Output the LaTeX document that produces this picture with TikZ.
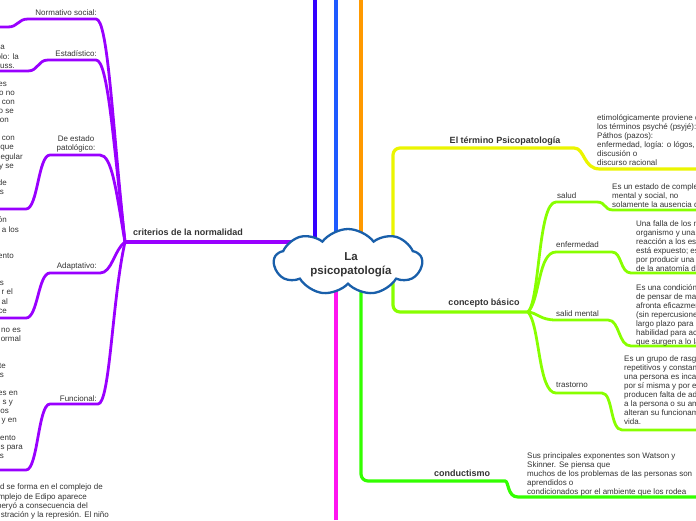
\documentclass[tikz,border=0pt]{standalone}
\usepackage{fontspec}
\setmainfont{Liberation Sans}
\usetikzlibrary{shapes.symbols}
\definecolor{tx}{RGB}{51,51,51}
\definecolor{cA}{RGB}{51,0,255}
\definecolor{cB}{RGB}{30,90,255}
\definecolor{cC}{RGB}{255,153,0}
\definecolor{cYel}{RGB}{235,245,0}
\definecolor{cLime}{RGB}{136,255,0}
\definecolor{cGrn}{RGB}{51,255,0}
\definecolor{cMag}{RGB}{255,20,240}
\definecolor{cPur}{RGB}{153,0,255}
\definecolor{cCloud}{RGB}{25,95,170}
\begin{document}
\begin{tikzpicture}[x=1pt,y=-1pt,
  mainline/.style={line width=3.2pt},
  brline/.style={line width=2.8pt},
  lbl/.style={font=\fontsize{8}{9.1}\selectfont, text=tx, inner sep=0pt},
  blbl/.style={font=\bfseries\fontsize{9}{11}\selectfont, text=tx, inner sep=0pt, anchor=base},
  txt/.style={font=\fontsize{8}{9.1}\selectfont, text=tx, inner sep=0pt, align=left, anchor=north west},
  frag/.style={font=\fontsize{8}{9.1}\selectfont, text=tx, inner sep=0pt, anchor=base east}]
\useasboundingbox (0,0) rectangle (696,520);
\begin{scope}
\clip (0,0) rectangle (696,520);
\coordinate (ctrpt) at (348,262);
\coordinate (hubL) at (125,242);
\coordinate (hubR) at (528,312);
\coordinate (eA) at (315,0);
\coordinate (eB) at (336,0);
\coordinate (eC) at (361,0);
\coordinate (eM) at (336,520);
% vertical lines
\draw[mainline, cA] (eA) -- (eA |- ctrpt);
\draw[mainline, cB] (eB) -- (eB |- ctrpt);
\draw[mainline, cC] (eC) -- (eC |- ctrpt);
\draw[mainline, cMag] (eM) -- (eM |- ctrpt);
% yellow
\draw[mainline, cYel] (393,262) [rounded corners=7pt] -- (393,148) -- (567,148) [sharp corners] .. controls (585,148) and (583,169) .. (600,169) -- (696,169);
% concepto basico
\draw[mainline, cLime] (393,262) [rounded corners=7pt] -- (393,312) -- (hubR);
\draw[brline, cLime] (hubR) .. controls (540,300) and (538,202) .. (556,202) -- (597,202) .. controls (606,202) and (604,210) .. (613,210) -- (696,210);
\draw[brline, cLime] (hubR) .. controls (540,300) and (538,252) .. (556,252) -- (612,252) .. controls (622,252) and (620,273) .. (631,273) -- (696,273);
\draw[brline, cLime] (hubR) .. controls (538,313) and (540,320) .. (556,320) -- (608,320) .. controls (620,320) and (618,346) .. (631,346) -- (696,346);
\draw[brline, cLime] (hubR) .. controls (540,325) and (538,393) .. (556,393) -- (602,393) .. controls (613,393) and (610,430) .. (622,430) -- (696,430);
% conductismo
\draw[mainline, cGrn] (361,262) [rounded corners=7pt] -- (361,481) -- (498,481) [sharp corners] .. controls (509,481) and (507,497) .. (518,497) -- (696,497);
% left purple
\draw[mainline, cPur] (hubL) -- (hubL -| ctrpt);
\draw[brline, cPur] (hubL) .. controls (112,120) and (108,19) .. (96,19) -- (28,19) .. controls (18,19) and (18,27) .. (8,27) -- (0,27);
\draw[brline, cPur] (hubL) .. controls (113,140) and (108,60) .. (96,60) -- (48,60) .. controls (38,60) and (38,71) .. (28,71) -- (0,71);
\draw[brline, cPur] (hubL) .. controls (116,190) and (112,155) .. (100,155) -- (50,155) .. controls (38,155) and (38,209) .. (26,209) -- (0,209);
\draw[brline, cPur] (hubL) .. controls (114,250) and (112,273) .. (100,273) -- (50,273) .. controls (38,273) and (38,318) .. (26,318) -- (0,318);
\draw[brline, cPur] (hubL) .. controls (112,300) and (110,404) .. (98,404) -- (50,404) .. controls (38,404) and (38,470) .. (26,470) -- (0,470);
% cloud
\node[cloud, cloud puffs=9, cloud puff arc=105, aspect=2.2, draw=cCloud, line width=2.3pt, fill=white,
  minimum width=148pt, minimum height=66pt, inner sep=0pt] (ctr) at (ctrpt) {};
\node[align=center, inner sep=0pt, font=\bfseries\fontsize{11.5}{14}\selectfont, text=tx] (ctrtxt) at (351,265) {La\\psicopatología};
% bold labels
\node[blbl] (crit) at (188,235.5) {criterios de la normalidad};
\node[blbl] (term) at (505,143.3) {El término Psicopatología};
\node[blbl] (conc) at (484,305.3) {concepto básico};
\node[blbl] (cond) at (462,476.3) {conductismo};
% right labels
\node[lbl, anchor=base west] (lsal) at (557,198) {salud};
\node[lbl, anchor=base west] (lenf) at (556,247) {enfermedad};
\node[lbl, anchor=base west] (lsm) at (556,316) {salid mental};
\node[lbl, anchor=base west] (ltra) at (556,387) {trastorno};
% left labels
\node[lbl, anchor=base east] (lnor) at (97,15) {Normativo social:};
\node[lbl, anchor=base east] (lest) at (97,56) {Estadístico:};
\node[lbl, anchor=north, align=center] (lpat) at (76,135) {De estado\\patológico:};
\node[lbl, anchor=base east] (lada) at (97,268) {Adaptativo:};
\node[lbl, anchor=base east] (lfun) at (97,401) {Funcional:};
% right text blocks
\node[txt] (tyel) at (597,114) {etimológicamente proviene de\\los términos psyché (psyjé): alma\\Páthos (pazos):\\enfermedad, logía: o lógos, estudio\\discusión o\\discurso racional};
\node[txt] (tsal) at (612,183) {Es un estado de completo bienestar físico,\\mental y social, no\\solamente la ausencia de afecciones};
\node[txt] (tenf) at (636,220) {Una falla de los mecanismos\\organismo y una falta de\\reacción a los estímulos\\está expuesto; este proceso\\por producir una perturbación\\de la anatomía del organismo};
\node[txt] (tsm) at (636,284) {Es una condición mental\\de pensar de manera\\afronta eficazmente\\(sin repercusiones\\largo plazo para la\\habilidad para actuar\\que surgen a lo largo};
\node[txt] (ttra) at (624,355) {Es un grupo de rasgos\\repetitivos y constantes\\una persona es incapaz\\por sí misma y por ello\\producen falta de adaptación\\a la persona o su ambiente\\alteran su funcionamiento\\vida.};
\node[txt] (tcond) at (527,452) {Sus principales exponentes son Watson y\\Skinner. Se piensa que\\muchos de los problemas de las personas son\\aprendidos o\\condicionados por el ambiente que los rodea};
% left fragments
\node[frag] (f1) at (5,49.9) {a};
\node[frag] (f2) at (19,59.9) {olo: la};
\node[frag] (f3) at (15,68.9) {uss.};
\node[frag] (f4) at (7,86.9) {es};
\node[frag] (f5) at (15,95.9) {o no};
\node[frag] (f6) at (15,104.9) {con};
\node[frag] (f7) at (14,113.9) {o se};
\node[frag] (f8) at (9,122.9) {on};
\node[frag] (f9) at (15,140.9) {d con};
\node[frag] (f10) at (14,149.9) {que};
\node[frag] (f11) at (23,159.9) {egular};
\node[frag] (f12) at (14,168.9) {y se};
\node[frag] (f13) at (7,185.9) {de};
\node[frag] (f14) at (4,194.9) {s};
\node[frag] (f15) at (7,222.9) {ón};
\node[frag] (f16) at (19,232.9) {a los};
\node[frag] (f17) at (14,258.9) {ento};
\node[frag] (f18) at (4,285.9) {s};
\node[frag] (f19) at (13,294.9) {r el};
\node[frag] (f20) at (8,304.9) {al};
\node[frag] (f21) at (7,313.9) {ce};
\node[frag] (f22) at (21,332.9) {no es};
\node[frag] (f23) at (21,341.9) {ormal};
\node[frag] (f24) at (6,368.9) {te};
\node[frag] (f25) at (4,377.9) {s};
\node[frag] (f26) at (18,395.9) {es en};
\node[frag] (f27) at (13,404.9) {s y};
\node[frag] (f28) at (9,413.9) {os};
\node[frag] (f29) at (17,422.9) {y en};
\node[frag] (f30) at (16,440.9) {ento};
\node[frag] (f31) at (23,449.9) {es para};
\node[frag] (f32) at (4,458.9) {s};
\node[frag] (f33) at (103,489.9) {d se forma en el complejo de};
\node[frag] (f34) at (87,499.9) {omplejo de Edipo aparece};
\node[frag] (f35) at (88,508.9) {peryó a consecuencia del};
\node[frag] (f36) at (109,517.9) {stración y la represión. El niño};
\end{scope}
\end{tikzpicture}
\end{document}
